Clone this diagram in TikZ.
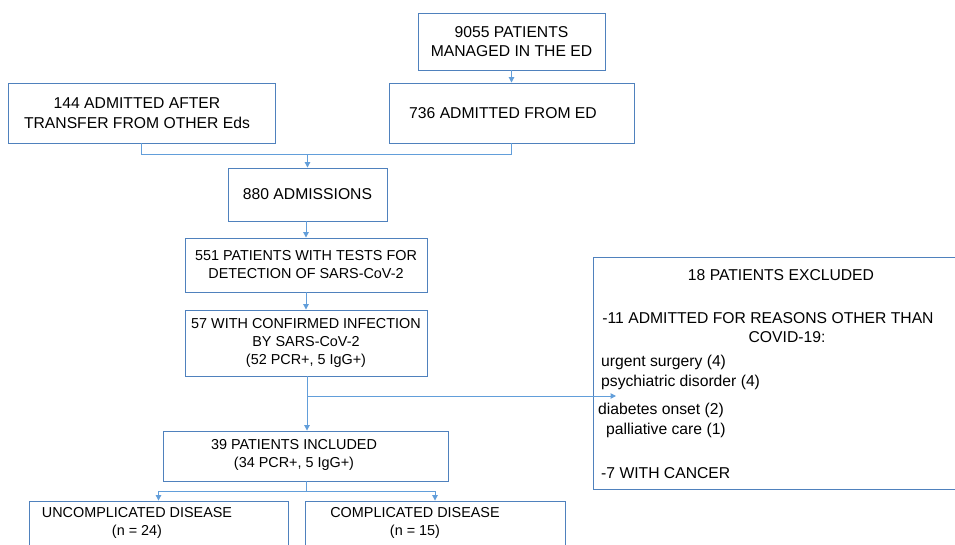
\documentclass[tikz,border=0pt]{standalone}
\usepackage{fontspec}
\setmainfont{Liberation Sans}
\usetikzlibrary{arrows.meta}
\definecolor{boxblue}{RGB}{79,129,189}
\definecolor{linkblue}{RGB}{98,158,218}
\begin{document}
\begin{tikzpicture}[x=1pt,y=-1pt,
  box/.style={draw=boxblue,line width=0.9pt,inner sep=0pt,align=center,font=\fontsize{14.4}{18}\selectfont},
  txt/.style={inner sep=0pt,align=center,font=\fontsize{14.4}{18}\selectfont},
  big/.style={font=\fontsize{15.7}{19.5}\selectfont},
  ltxt/.style={inner sep=0pt,align=left,anchor=west,font=\fontsize{15.7}{19.5}\selectfont},
  link/.style={draw=linkblue,line width=1pt},
  arr/.style={link,-{Triangle[length=5.5pt,width=5.5pt]}}]
\useasboundingbox (0,0) rectangle (955,545);
\clip (0,0) rectangle (955,545);
% boxes
\node[box,big,minimum width=187,minimum height=57] (A) at (511.5,41.5) {9055 PATIENTS\\MANAGED IN THE ED};
\node[box,minimum width=267,minimum height=60] (B) at (141.5,113) {};
\node[box,minimum width=245,minimum height=60] (C) at (511.5,113) {};
\node[box,big,minimum width=159,minimum height=53] (D) at (307.5,194.5) {880 ADMISSIONS};
\node[box,minimum width=242,minimum height=54] (E) at (306,265) {551 PATIENTS WITH TESTS FOR\\DETECTION OF SARS-CoV-2};
\node[box,minimum width=242,minimum height=66] (F) at (306,343) {57 WITH CONFIRMED INFECTION\\BY SARS-CoV-2\\(52 PCR+, 5 IgG+)};
\node[box,minimum width=285,minimum height=50] (G) at (305.5,456) {};
\node[box,minimum width=259,minimum height=60] (H) at (158.5,531) {};
\node[box,minimum width=260,minimum height=60] (I) at (435,531) {};
\node[box,minimum width=372,minimum height=232] (X) at (779,373) {};
% texts
\node[txt,big] (Bt) at (137,113) {144 ADMITTED AFTER\\TRANSFER FROM OTHER Eds};
\node[txt,big] (Ct) at (503,113) {736 ADMITTED FROM ED};
\node[txt] (Gt) at (294,454.5) {39 PATIENTS INCLUDED\\(34 PCR+, 5 IgG+)};
\node[txt] (Ht) at (137,523) {UNCOMPLICATED DISEASE\\(n = 24)};
\node[txt] (It) at (415,523) {COMPLICATED DISEASE\\(n = 15)};
\node[txt,big] (X1) at (781,275) {18 PATIENTS EXCLUDED};
\node[txt,big] (X2) at (768,327.5) {-11 ADMITTED FOR REASONS OTHER THAN\\COVID-19:\hspace*{-38pt}};
\node[ltxt] (X3) at (601,372.5) {urgent surgery (4)\\psychiatric disorder (4)};
\node[ltxt] (X4) at (598,410) {diabetes onset (2)};
\node[ltxt] (X5) at (606,430) {palliative care (1)};
\node[ltxt] (X6) at (601,473) {-7 WITH CANCER};
% connectors
\coordinate (j1) at (307.5,155);
\coordinate (j3) at (307,396);
\coordinate (xe) at (616,396);
\coordinate (j2) at (306,491);
\draw[arr] (A.south) -- (C.north);
\draw[link] (B.south) |- (j1);
\draw[link] (C.south) |- (j1);
\draw[arr] (j1) -- (D.north);
\draw[arr] (D.south -| E.north) -- (E.north);
\draw[arr] (E.south) -- (F.north);
\draw[arr] (F.south -| j3) -- (G.north -| j3);
\draw[arr] (j3) -- (xe);
\draw[link] (G.south -| j2) -- (j2);
\draw[arr] (j2) -| (H.north);
\draw[arr] (j2) -| (I.north);
\end{tikzpicture}
\end{document}
